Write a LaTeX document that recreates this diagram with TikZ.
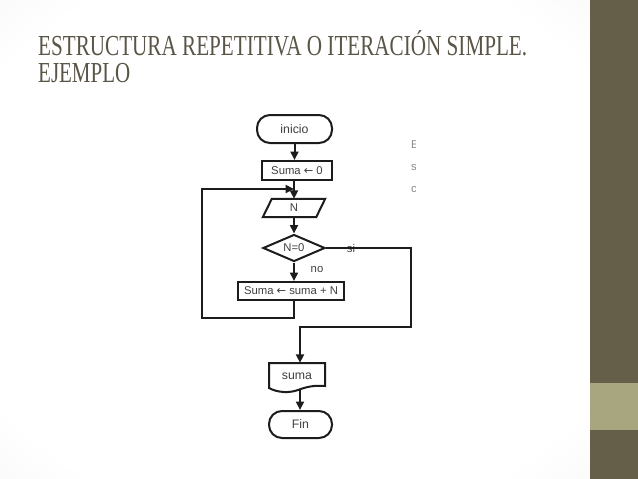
\documentclass[tikz,border=0pt]{standalone}
\usepackage{fontspec}
\setmainfont{Liberation Serif}
\newfontfamily\flowfont{Liberation Sans}
\newfontfamily\arrowfont{DejaVu Sans}
\usetikzlibrary{shapes.geometric,arrows.meta}
\definecolor{sidedark}{HTML}{655E48}
\definecolor{sidelight}{HTML}{A8A67E}
\definecolor{titlecol}{HTML}{5A5547}
\definecolor{bggray}{HTML}{E2E2E2}
\definecolor{linecol}{HTML}{1C1C1C}
\definecolor{txtcol}{HTML}{404040}
\definecolor{fragcol}{HTML}{8A8A8A}
\newcommand{\larr}{{\arrowfont ←}}
\pgfdeclareradialshading{slidebg}{\pgfpoint{0bp}{0bp}}{color(0bp)=(white); color(30bp)=(white); color(66bp)=(bggray); color(70bp)=(bggray)}
\begin{document}
\begin{tikzpicture}[x=1pt,y=-1pt,
  flowtext/.style={font=\flowfont\fontsize{11.3}{13}\selectfont, text=txtcol},
  bigtext/.style={font=\flowfont\fontsize{12.3}{14}\selectfont, text=txtcol},
  line/.style={draw=linecol, line width=2pt},
  arr/.style={line, -{Triangle[width=8pt,length=8.5pt]}},
  term/.style={bigtext, draw=linecol, line width=2pt, rounded corners=13pt, inner sep=0pt},
  proc/.style={flowtext, draw=linecol, line width=2pt, inner sep=0pt},
  dec/.style={flowtext, draw=linecol, line width=2pt, diamond, aspect=2.3, inner sep=0pt}
]
\useasboundingbox (0,0) rectangle (638,479);
% slide background
\shade[shading=slidebg] (0,0) rectangle (590,479);
\fill[sidedark] (590,0) rectangle (638,383);
\fill[sidelight] (590,383) rectangle (638,430);
\fill[sidedark] (590,430) rectangle (638,479);
% title
\node[anchor=base west, text=titlecol, inner sep=0pt] (t1) at (38,55)
  {\resizebox{489pt}{\height}{\fontsize{29}{30}\selectfont ESTRUCTURA REPETITIVA O ITERACIÓN SIMPLE.}};
\node[anchor=base west, text=titlecol, inner sep=0pt] (t2) at (38,82)
  {\resizebox{92pt}{\height}{\fontsize{29}{30}\selectfont EJEMPLO}};
% cropped side text fragments
\begin{scope}
  \clip (405,130) rectangle (415.5,200);
  \node[flowtext, text=fragcol, anchor=west, inner sep=0pt] (f1) at (411,145) {E};
  \node[flowtext, text=fragcol, anchor=west, inner sep=0pt] (f2) at (411,168) {s};
  \node[flowtext, text=fragcol, anchor=west, inner sep=0pt] (f3) at (411,190) {c};
\end{scope}
% flowchart nodes
\node[term, minimum width=75pt, minimum height=28pt] (inicio) at (294.5,129) {inicio};
\node[proc, minimum width=70pt, minimum height=19pt] (s0) at (297,170.5) {Suma \larr\ 0};
\node[flowtext, minimum width=53pt, minimum height=18pt, inner sep=0pt] (n) at (294,208) {N};
\draw[line] ([xshift=4.5pt]n.north west) -- ([xshift=4.5pt]n.north east)
  -- ([xshift=-4.5pt]n.south east) -- ([xshift=-4.5pt]n.south west) -- cycle;
\node[dec, minimum width=62pt, minimum height=27pt] (d) at (294,248) {N=0};
\node[proc, minimum width=106pt, minimum height=18pt] (b2) at (291,291) {Suma \larr\ suma + N};
\node[bigtext, minimum width=56pt, minimum height=26pt, inner sep=0pt] (suma) at (297,376) {suma};
\draw[line] (269,363) -- (325,363) -- (325,386)
  .. controls (314,385) and (306,387) .. (298,390)
  .. controls (290,393) and (278,393) .. (269,388) -- cycle;
\node[term, minimum width=63pt, minimum height=27pt] (fin) at (300.5,424.5) {Fin};
\node[flowtext] (si) at (351,248) {si};
\node[flowtext] (no) at (317,270) {no};
% helper coordinates
\coordinate (j) at (294,189);
\coordinate (lb) at (202,318);
\coordinate (rb) at (411,327);
\coordinate (sx) at (300,0);
% connectors
\draw[arr] (inicio.south) -- (inicio.south |- s0.north);
\draw[line] (j |- s0.south) -- (j);
\draw[arr] (j) -- (j |- n.north);
\draw[arr] (n.south) -- (d.north);
\draw[arr] (d.south) -- (d.south |- b2.north);
\draw[arr] (d.south |- b2.south) -- (d.south |- lb) -- (lb) -- (lb |- j) -- (j);
\draw[arr] (d.east) -- (d.east -| rb) -- (rb) -- (sx |- rb) -- (sx |- suma.north);
\draw[arr] (sx |- suma.south) -- (sx |- fin.north);
\end{tikzpicture}
\end{document}
